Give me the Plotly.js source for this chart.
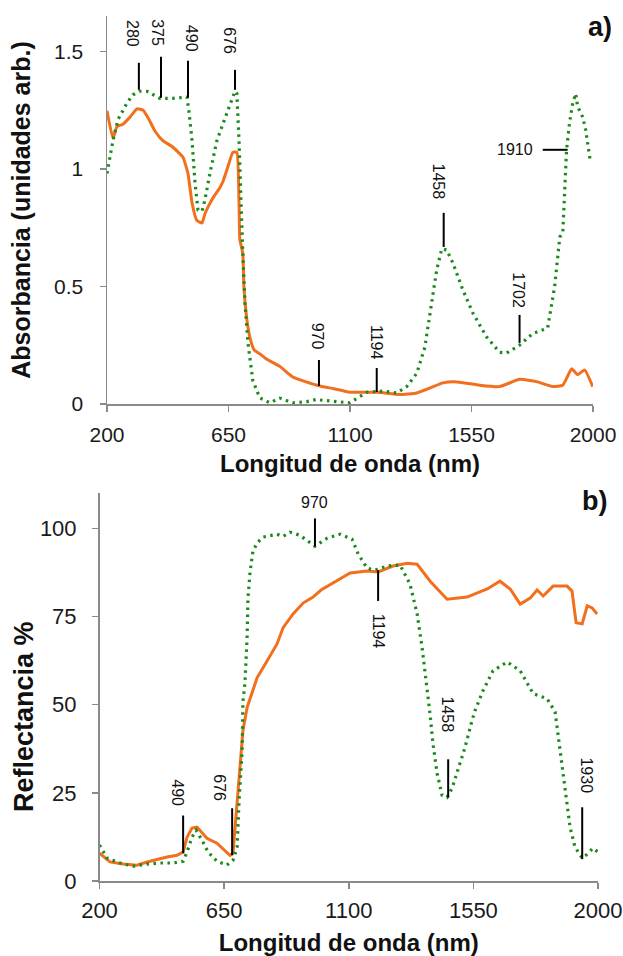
<!DOCTYPE html>
<html>
<head>
<meta charset="utf-8">
<script src="https://cdn.plot.ly/plotly-3.0.1.min.js"></script>
<style>html,body{margin:0;padding:0;background:#fff;}#chart{width:623px;height:956px;}</style>
</head>
<body>
<div id="chart"></div>
<script>
// ---- (a) Absorbance ----
const absOrangeWl = [200,222,237,259,285,311,333,352,378,407,441,481,500,515,533,552,563,589,618,629,648,666,681,689,692,703,707,718,730,745,770,792,840,888,977,1040,1099,1199,1284,1347,1400,1444,1488,1580,1654,1728,1791,1851,1888,1921,1943,1969,1999];
const absOrange   = [1.247,1.13,1.18,1.19,1.22,1.255,1.25,1.217,1.16,1.12,1.095,1.05,0.98,0.855,0.78,0.77,0.81,0.87,0.92,0.945,1.01,1.07,1.07,0.85,0.70,0.64,0.50,0.36,0.28,0.23,0.21,0.19,0.16,0.115,0.08,0.065,0.05,0.05,0.04,0.047,0.07,0.09,0.095,0.08,0.074,0.105,0.095,0.074,0.08,0.15,0.125,0.145,0.074];
const absGreenWl  = [200,222,241,274,296,322,348,396,444,496,503,515,526,537,552,563,581,607,629,655,674,681,689,696,700,703,711,722,740,766,803,840,888,940,977,988,1099,1162,1221,1273,1310,1347,1377,1403,1421,1440,1458,1481,1518,1555,1606,1654,1680,1728,1777,1832,1858,1877,1888,1902,1913,1925,1936,1943,1962,1973,1991];
const absGreen    = [0.98,1.12,1.21,1.28,1.315,1.33,1.33,1.30,1.30,1.305,1.25,1.12,0.94,0.825,0.82,0.87,0.98,1.12,1.19,1.27,1.33,1.32,1.12,0.87,0.70,0.64,0.43,0.26,0.10,0.026,0.005,0.025,0.005,0.01,0.02,0.017,0.005,0.05,0.055,0.047,0.074,0.13,0.24,0.43,0.57,0.66,0.655,0.60,0.485,0.387,0.285,0.22,0.217,0.25,0.30,0.323,0.50,0.71,0.727,1.08,1.195,1.28,1.32,1.265,1.22,1.165,1.025];

// ---- (b) Reflectance ----
const refOrangeWl = [200,238,285,335,372,408,444,480,502,516,534,552,570,588,624,646,671,682,697,707,718,733,769,805,841,863,899,935,971,1000,1043,1105,1166,1206,1260,1311,1347,1394,1455,1527,1600,1646,1683,1719,1755,1780,1802,1838,1888,1906,1921,1943,1961,1979,1997];
const refOrange   = [7.9,5.4,4.8,4.5,5.4,6.2,6.8,7.3,8.2,12.4,15.0,15.3,13.8,12.1,10.7,9.0,7.3,7.9,22.9,34.2,42.7,49.2,57.6,62.4,67.2,71.8,75.7,78.8,80.5,82.5,84.5,87.3,87.9,87.6,89.3,90.1,89.8,85,79.9,80.5,82.8,85,82.8,78.5,80.2,82.5,80.8,83.6,83.6,82.2,73.2,72.9,78,77.4,75.7];
const refGreenWl  = [200,227,274,321,372,419,465,502,516,534,549,570,592,624,660,682,697,704,715,718,725,733,736,744,754,769,790,841,863,888,924,953,978,1022,1069,1112,1134,1166,1195,1238,1285,1321,1347,1365,1383,1394,1404,1419,1437,1455,1473,1495,1520,1545,1556,1585,1621,1672,1719,1766,1816,1845,1863,1881,1899,1917,1943,1961,1982,2000];
const refGreen    = [10.2,6.5,5.1,4.2,4.8,5.1,5.1,5.6,8.2,12.4,14.4,11.6,8.2,5.6,4.5,5.9,9.6,22.9,37,51,56,69,80.2,87.9,93.5,95.8,97.5,98.3,97.7,98.9,98.0,96.3,94.9,97.2,98.3,96.9,92.7,88.7,88.1,89.3,89.6,84.2,75.7,66.1,54.8,47,39,30.5,24.3,23.7,26.3,31.4,37.9,45.5,48.3,54,59.6,62.1,59.6,53.1,51.7,48,37,24.9,15.3,9.6,6.5,7.6,9.3,8.2];

// ---- axis ticks ----
const xTicks = [200,650,1100,1550,2000];
const absTicks = [0,0.5,1,1.5];
const absTickText = ['0','0.5','1','1.5'];
const refTicks = [0,25,50,75,100];

// ---- band markers (a) ----
const absBandLabels = ['280','375','490','676','970','1194','1458','1702'];
const absBandX      = [318,400,500,674,985,1199,1447,1728];
const absBandY0     = [1.336,1.302,1.302,1.336,0.077,0.051,0.668,0.26];
const absBandY1     = [1.451,1.477,1.46,1.421,0.187,0.153,0.813,0.379];
const absLabelX     = [292,389,511,655,981,1196,1429,1721];
const absLabelY     = [1.574,1.581,1.553,1.543,0.287,0.26,0.947,0.485];
const absHBandLabel = '1910';
const absHBandX     = [1814,1906];
const absHBandY     = 1.081;
const absHLabelX    = 1710;

// ---- band markers (b) ----
const refBandLabels = ['490','676','970','1194','1458','1930'];
const refBandX      = [502,679,978,1206,1459,1943];
const refBandY0     = [7.9,7.3,94.9,79.4,23.7,6.2];
const refBandY1     = [18.6,20.6,102.8,88.1,34.5,20.9];
const refLabelX     = [483,635,978,1206,1455,1957];
const refLabelY     = [24.9,26.3,107.3,70.9,47.2,29.9];
const refLabelAngle = [90,90,0,90,90,90];

const ORANGE = '#F26F1E', GREEN = '#1B8A1B';
const FONT = 'Liberation Sans, Arial, sans-serif';

const traces = [
  {x: absOrangeWl, y: absOrange, xaxis:'x', yaxis:'y', mode:'lines', line:{color:ORANGE, width:3, shape:'spline', smoothing:0.4}, hoverinfo:'skip'},
  {x: absGreenWl, y: absGreen, xaxis:'x', yaxis:'y', mode:'lines', line:{color:GREEN, width:3.2, dash:'2.5px,4.5px'}, hoverinfo:'skip'},
  {x: refOrangeWl, y: refOrange, xaxis:'x2', yaxis:'y2', mode:'lines', line:{color:ORANGE, width:3}, hoverinfo:'skip'},
  {x: refGreenWl, y: refGreen, xaxis:'x2', yaxis:'y2', mode:'lines', line:{color:GREEN, width:3.2, dash:'2.5px,4.5px'}, hoverinfo:'skip'}
];

const shapes = [];
const annotations = [];
absBandLabels.forEach((t,i)=>{
  shapes.push({type:'line', xref:'x', yref:'y', x0:absBandX[i], x1:absBandX[i], y0:absBandY0[i], y1:absBandY1[i], line:{color:'#000', width:2}});
  annotations.push({xref:'x', yref:'y', x:absLabelX[i], y:absLabelY[i], text:t, textangle:90, showarrow:false, xanchor:'center', yanchor:'middle', font:{family:FONT, size:16, color:'#111'}});
});
shapes.push({type:'line', xref:'x', yref:'y', x0:absHBandX[0], x1:absHBandX[1], y0:absHBandY, y1:absHBandY, line:{color:'#000', width:2}});
annotations.push({xref:'x', yref:'y', x:absHLabelX, y:absHBandY, text:absHBandLabel, showarrow:false, xanchor:'center', yanchor:'middle', font:{family:FONT, size:16, color:'#111'}});
refBandLabels.forEach((t,i)=>{
  shapes.push({type:'line', xref:'x2', yref:'y2', x0:refBandX[i], x1:refBandX[i], y0:refBandY0[i], y1:refBandY1[i], line:{color:'#000', width:2}});
  annotations.push({xref:'x2', yref:'y2', x:refLabelX[i], y:refLabelY[i], text:t, textangle:refLabelAngle[i], showarrow:false, xanchor:'center', yanchor:'middle', font:{family:FONT, size:16, color:'#111'}});
});
annotations.push({xref:'paper', yref:'paper', x:600/623, y:1-27/956, text:'<b>a)</b>', showarrow:false, xanchor:'center', yanchor:'middle', font:{family:FONT, size:27, color:'#111'}});
annotations.push({xref:'paper', yref:'paper', x:594/623, y:1-501/956, text:'<b>b)</b>', showarrow:false, xanchor:'center', yanchor:'middle', font:{family:FONT, size:27, color:'#111'}});
// y-axis title of panel (b), placed like in the original figure
annotations.push({xref:'paper', yref:'paper', x:24/623, y:1-717/956, text:'<b>Reflectancia %</b>', textangle:-90, showarrow:false, xanchor:'center', yanchor:'middle', font:{family:FONT, size:27, color:'#111'}});

const axisCommon = {
  showgrid:false, zeroline:false, showline:true, linecolor:'#8a8a8a', linewidth:1.5,
  ticks:'outside', ticklen:6, tickwidth:1.5, tickcolor:'#8a8a8a', automargin:false
};
const tfA = {family:FONT, size:21, color:'#1a1a1a'};
const tfB = {family:FONT, size:22, color:'#1a1a1a'};

const layout = {
  width:623, height:956, margin:{l:0,r:0,t:0,b:0},
  paper_bgcolor:'#fff', plot_bgcolor:'#fff', showlegend:false,
  xaxis: Object.assign({}, axisCommon, {domain:[107/623, 593/623], anchor:'y', range:[200,2000], tickvals:xTicks, tickfont:tfA, ticklabelstandoff:5,
    title:{text:'<b>Longitud de onda (nm)</b>', font:{family:FONT, size:24, color:'#111'}, standoff:10}}),
  yaxis: Object.assign({}, axisCommon, {domain:[1-404/956, 1-16/956], anchor:'x', range:[0,1.65], tickvals:absTicks, ticktext:absTickText, tickfont:tfA, ticklabelstandoff:12,
    title:{text:'<b>Absorbancia (unidades arb.)</b>', font:{family:FONT, size:25, color:'#111'}, standoff:16}}),
  xaxis2: Object.assign({}, axisCommon, {domain:[99.5/623, 598/623], anchor:'y2', range:[200,2000], tickvals:xTicks, tickfont:tfB, ticklabelstandoff:3,
    title:{text:'<b>Longitud de onda (nm)</b>', font:{family:FONT, size:24, color:'#111'}, standoff:13}}),
  yaxis2: Object.assign({}, axisCommon, {domain:[1-881/956, 1-493/956], anchor:'x2', range:[0,110], tickvals:refTicks, tickfont:tfB, ticklabelstandoff:11}),
  shapes: shapes,
  annotations: annotations
};

Plotly.newPlot('chart', traces, layout, {staticPlot:true, displayModeBar:false});
</script>
</body>
</html>
